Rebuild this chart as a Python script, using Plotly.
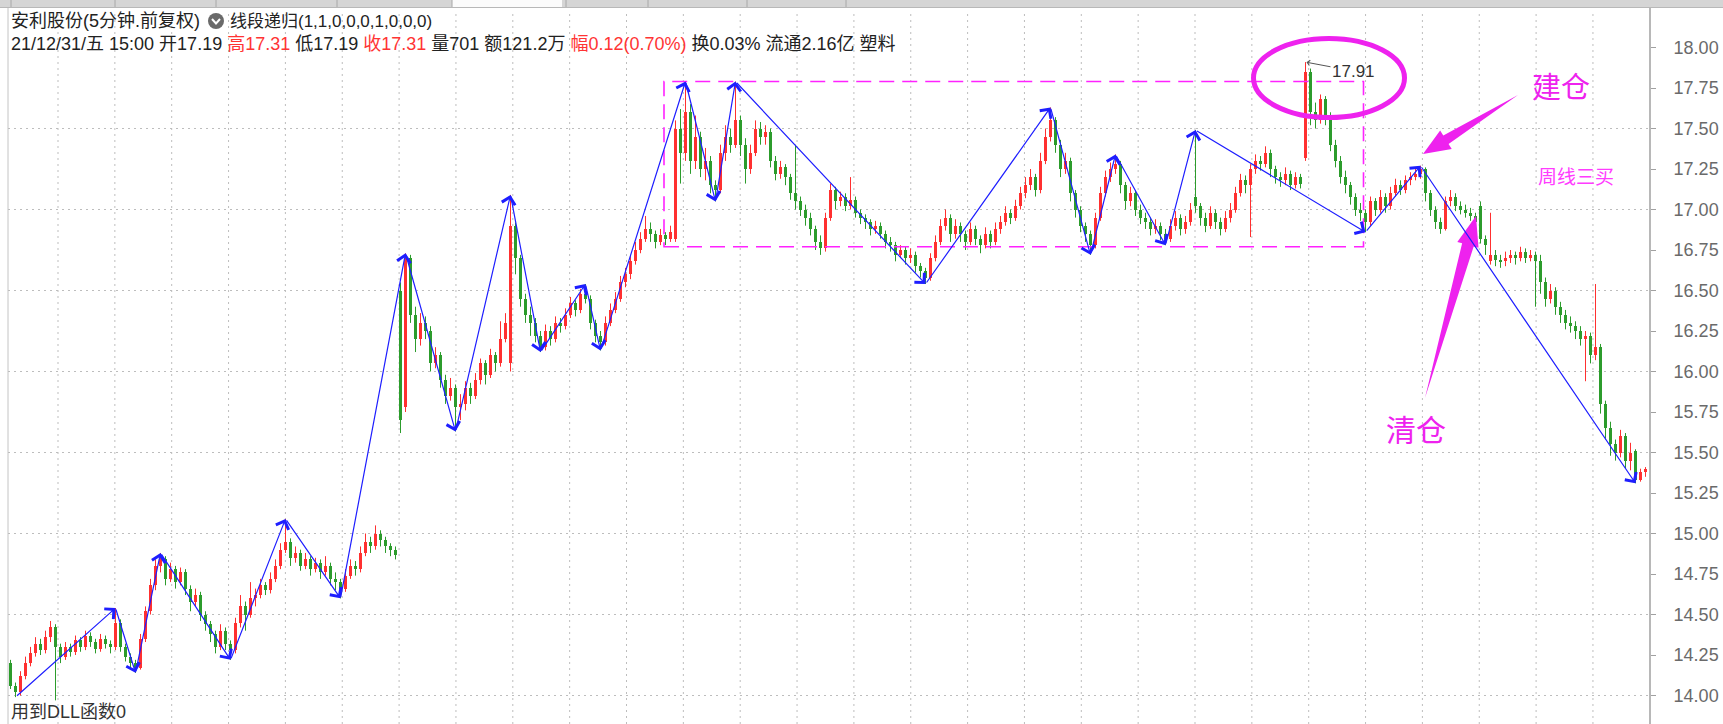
import math
import plotly.graph_objects as go

# ---------------- data (5-minute bars) ----------------
opens = [
 14.20, 14.06, 14.02, 14.12, 14.20, 14.26, 14.32, 14.28, 14.36, 14.42,
 14.30, 14.24, 14.30, 14.27, 14.34, 14.30, 14.37, 14.33, 14.29, 14.35,
 14.32, 14.30, 14.45, 14.30, 14.24, 14.20, 14.17, 14.35, 14.52, 14.68,
 14.80, 14.84, 14.72, 14.78, 14.70, 14.76, 14.66, 14.58, 14.62, 14.50,
 14.44, 14.38, 14.30, 14.40, 14.32, 14.28, 14.45, 14.55, 14.50, 14.60,
 14.62, 14.68, 14.65, 14.72, 14.80, 14.90, 14.95, 14.85, 14.88, 14.80,
 14.84, 14.78, 14.82, 14.76, 14.80, 14.72, 14.70, 14.66, 14.74, 14.80,
 14.78, 14.88, 14.95, 14.92, 15.00, 14.96, 14.92, 14.90, 16.50, 15.78,
 16.70, 16.35, 16.20, 16.30, 16.25, 16.05, 16.10, 15.95, 15.85, 15.90,
 15.78, 15.80, 15.90, 15.85, 15.95, 16.05, 15.98, 16.10, 16.05, 16.20,
 16.05, 16.90, 16.70, 16.45, 16.35, 16.30, 16.22, 16.15, 16.25, 16.20,
 16.30, 16.28, 16.35, 16.42, 16.38, 16.48, 16.45, 16.30, 16.22, 16.18,
 16.30, 16.38, 16.45, 16.55, 16.60, 16.68, 16.75, 16.82, 16.88, 16.85,
 16.80, 16.84, 16.82, 16.82, 17.50, 17.35, 17.60, 17.30, 17.45, 17.25,
 17.30, 17.15, 17.12, 17.35, 17.45, 17.40, 17.55, 17.40, 17.25, 17.35,
 17.50, 17.45, 17.48, 17.30, 17.22, 17.26, 17.20, 17.10, 17.05, 17.00,
 16.95, 16.88, 16.80, 16.76, 16.95, 17.12, 17.05, 17.08, 17.02, 17.06,
 16.98, 16.95, 16.92, 16.88, 16.90, 16.85, 16.80, 16.78, 16.72, 16.75,
 16.70, 16.72, 16.65, 16.62, 16.58, 16.70, 16.80, 16.90, 16.95, 16.85,
 16.90, 16.85, 16.80, 16.88, 16.82, 16.78, 16.85, 16.80, 16.88, 16.92,
 16.98, 16.95, 17.02, 17.10, 17.15, 17.20, 17.12, 17.30, 17.45, 17.55,
 17.40, 17.25, 17.30, 17.10, 17.00, 16.90, 16.85, 16.78, 16.95, 17.10,
 17.20, 17.25, 17.28, 17.15, 17.05, 17.10, 17.00, 16.95, 16.92, 16.88,
 16.90, 16.85, 16.82, 16.90, 16.95, 16.88, 16.92, 17.08, 17.02, 16.95,
 16.90, 16.98, 16.92, 16.88, 16.95, 17.00, 17.10, 17.18, 17.15, 17.25,
 17.30, 17.28, 17.35, 17.25, 17.20, 17.18, 17.22, 17.15, 17.20, 17.32,
 17.85, 17.60, 17.55, 17.68, 17.58, 17.40, 17.30, 17.20, 17.15, 17.08,
 17.00, 16.98, 16.92, 17.05, 17.00, 17.08, 17.02, 17.10, 17.15, 17.12,
 17.18, 17.20, 17.22, 17.25, 17.10, 17.00, 16.92, 16.88, 17.05, 17.08,
 17.02, 17.00, 16.98, 16.96, 17.02, 16.82, 16.68, 16.72, 16.69, 16.68,
 16.70, 16.72, 16.70, 16.74, 16.70, 16.72, 16.68, 16.55, 16.45, 16.50,
 16.40, 16.35, 16.30, 16.28, 16.25, 16.20, 16.22, 16.10, 16.15, 15.80,
 15.65, 15.55, 15.50, 15.60, 15.45, 15.51, 15.33, 15.38,
]
highs = [
 14.22, 14.08, 14.15, 14.24, 14.30, 14.36, 14.35, 14.40, 14.46, 14.44,
 14.32, 14.33, 14.32, 14.37, 14.36, 14.40, 14.39, 14.35, 14.38, 14.37,
 14.34, 14.54, 14.47, 14.32, 14.26, 14.22, 14.38, 14.55, 14.72, 14.84,
 14.88, 14.86, 14.82, 14.80, 14.79, 14.78, 14.68, 14.66, 14.64, 14.52,
 14.46, 14.40, 14.44, 14.42, 14.34, 14.48, 14.62, 14.58, 14.70, 14.66,
 14.72, 14.70, 14.76, 14.84, 14.94, 15.09, 14.97, 14.92, 14.90, 14.88,
 14.86, 14.85, 14.84, 14.86, 14.82, 14.76, 14.72, 14.78, 14.84, 14.83,
 14.92, 15.00, 14.98, 15.05, 15.02, 14.98, 14.94, 14.92, 16.55, 16.73,
 16.72, 16.40, 16.36, 16.34, 16.28, 16.15, 16.12, 15.98, 15.96, 15.92,
 15.86, 15.94, 15.93, 15.99, 16.08, 16.07, 16.14, 16.12, 16.31, 16.36,
 17.09, 16.92, 16.72, 16.48, 16.40, 16.33, 16.25, 16.29, 16.28, 16.34,
 16.33, 16.39, 16.46, 16.44, 16.51, 16.54, 16.47, 16.32, 16.25, 16.34,
 16.42, 16.49, 16.59, 16.64, 16.72, 16.80, 16.86, 16.96, 16.92, 16.87,
 16.88, 16.86, 16.90, 17.55, 17.62, 17.79, 17.65, 17.58, 17.48, 17.38,
 17.33, 17.18, 17.40, 17.52, 17.50, 17.79, 17.58, 17.44, 17.40, 17.55,
 17.54, 17.52, 17.50, 17.33, 17.30, 17.28, 17.22, 17.40, 17.08, 17.03,
 16.98, 16.90, 16.84, 16.98, 17.16, 17.14, 17.11, 17.10, 17.20, 17.08,
 17.00, 16.97, 16.94, 16.93, 16.92, 16.87, 16.83, 16.80, 16.78, 16.77,
 16.76, 16.74, 16.67, 16.64, 16.73, 16.84, 16.94, 17.00, 16.97, 16.94,
 16.92, 16.87, 16.92, 16.90, 16.84, 16.89, 16.87, 16.92, 16.96, 17.02,
 17.00, 17.06, 17.14, 17.20, 17.25, 17.22, 17.35, 17.50, 17.63, 17.57,
 17.43, 17.35, 17.32, 17.12, 17.02, 16.92, 16.87, 16.98, 17.14, 17.24,
 17.29, 17.34, 17.30, 17.17, 17.14, 17.12, 17.03, 16.98, 16.95, 16.94,
 16.92, 16.88, 16.94, 16.99, 16.97, 16.96, 17.04, 17.49, 17.04, 16.98,
 17.02, 17.00, 16.95, 16.99, 17.04, 17.14, 17.22, 17.21, 17.28, 17.34,
 17.33, 17.39, 17.37, 17.27, 17.23, 17.26, 17.24, 17.23, 17.22, 17.91,
 17.87, 17.66, 17.71, 17.70, 17.60, 17.43, 17.33, 17.24, 17.17, 17.10,
 17.04, 17.00, 17.08, 17.07, 17.12, 17.10, 17.14, 17.19, 17.18, 17.21,
 17.23, 17.25, 17.27, 17.26, 17.12, 17.02, 16.95, 17.08, 17.12, 17.10,
 17.05, 17.03, 17.01, 16.98, 17.05, 16.84, 16.98, 16.75, 16.72, 16.74,
 16.75, 16.74, 16.77, 16.76, 16.75, 16.74, 16.72, 16.58, 16.54, 16.52,
 16.43, 16.38, 16.34, 16.31, 16.28, 16.25, 16.24, 16.54, 16.17, 15.82,
 15.69, 15.58, 15.64, 15.62, 15.56, 15.52, 15.40, 15.41,
]
lows = [
 14.04, 13.99, 14.00, 14.10, 14.18, 14.24, 14.25, 14.26, 14.33, 13.97,
 14.20, 14.22, 14.24, 14.25, 14.27, 14.28, 14.30, 14.26, 14.27, 14.29,
 14.26, 14.28, 14.27, 14.21, 14.17, 14.14, 14.16, 14.33, 14.50, 14.65,
 14.76, 14.68, 14.70, 14.66, 14.68, 14.62, 14.52, 14.55, 14.46, 14.40,
 14.33, 14.26, 14.28, 14.28, 14.22, 14.26, 14.42, 14.40, 14.48, 14.55,
 14.60, 14.62, 14.63, 14.70, 14.78, 14.88, 14.80, 14.82, 14.77, 14.78,
 14.74, 14.76, 14.72, 14.74, 14.68, 14.65, 14.60, 14.64, 14.72, 14.74,
 14.76, 14.86, 14.88, 14.90, 14.92, 14.88, 14.86, 14.84, 15.62, 15.75,
 16.30, 16.12, 16.16, 16.20, 16.00, 16.02, 15.90, 15.80, 15.82, 15.63,
 15.70, 15.76, 15.80, 15.83, 15.92, 15.92, 15.96, 16.00, 16.03, 16.18,
 16.00, 16.60, 16.40, 16.30, 16.22, 16.18, 16.12, 16.13, 16.16, 16.18,
 16.24, 16.26, 16.33, 16.34, 16.36, 16.42, 16.26, 16.18, 16.13, 16.16,
 16.28, 16.36, 16.43, 16.52, 16.57, 16.66, 16.73, 16.80, 16.80, 16.76,
 16.78, 16.78, 16.80, 16.80, 17.16, 17.30, 17.22, 17.25, 17.20, 17.18,
 17.10, 17.05, 17.10, 17.30, 17.35, 17.38, 17.33, 17.16, 17.22, 17.33,
 17.40, 17.40, 17.26, 17.18, 17.19, 17.15, 17.06, 17.00, 16.96, 16.90,
 16.84, 16.75, 16.72, 16.74, 16.93, 17.00, 17.02, 16.99, 17.00, 16.95,
 16.91, 16.88, 16.84, 16.85, 16.82, 16.76, 16.74, 16.68, 16.70, 16.66,
 16.67, 16.61, 16.58, 16.54, 16.56, 16.68, 16.78, 16.87, 16.80, 16.82,
 16.80, 16.75, 16.78, 16.78, 16.73, 16.76, 16.76, 16.78, 16.85, 16.90,
 16.91, 16.93, 17.00, 17.07, 17.12, 17.08, 17.10, 17.28, 17.42, 17.35,
 17.20, 17.22, 17.05, 16.95, 16.86, 16.80, 16.72, 16.76, 16.93, 17.08,
 17.17, 17.22, 17.10, 17.00, 17.02, 16.96, 16.91, 16.88, 16.84, 16.85,
 16.81, 16.78, 16.80, 16.87, 16.84, 16.85, 16.90, 16.98, 16.90, 16.86,
 16.88, 16.88, 16.84, 16.86, 16.92, 16.98, 17.08, 17.10, 16.83, 17.22,
 17.24, 17.26, 17.20, 17.16, 17.14, 17.15, 17.12, 17.13, 17.13, 17.30,
 17.52, 17.50, 17.53, 17.52, 17.36, 17.26, 17.16, 17.10, 17.03, 16.96,
 16.93, 16.86, 16.90, 16.96, 16.98, 16.98, 17.00, 17.08, 17.09, 17.10,
 17.15, 17.18, 17.19, 17.05, 16.96, 16.88, 16.85, 16.87, 17.02, 16.99,
 16.97, 16.95, 16.93, 16.88, 16.79, 16.72, 16.66, 16.65, 16.64, 16.65,
 16.67, 16.66, 16.68, 16.67, 16.68, 16.40, 16.48, 16.40, 16.42, 16.35,
 16.30, 16.26, 16.24, 16.20, 16.16, 15.94, 16.05, 16.07, 15.74, 15.58,
 15.48, 15.45, 15.47, 15.40, 15.39, 15.31, 15.32, 15.35,
]
closes = [
 14.06, 14.02, 14.12, 14.20, 14.26, 14.32, 14.28, 14.36, 14.42, 14.30,
 14.24, 14.30, 14.27, 14.34, 14.30, 14.37, 14.33, 14.29, 14.35, 14.32,
 14.30, 14.45, 14.30, 14.24, 14.20, 14.17, 14.35, 14.52, 14.68, 14.80,
 14.84, 14.72, 14.78, 14.70, 14.76, 14.66, 14.58, 14.62, 14.50, 14.44,
 14.38, 14.30, 14.40, 14.32, 14.28, 14.45, 14.55, 14.50, 14.60, 14.62,
 14.68, 14.65, 14.72, 14.80, 14.90, 14.95, 14.85, 14.88, 14.80, 14.84,
 14.78, 14.82, 14.76, 14.80, 14.72, 14.70, 14.66, 14.74, 14.80, 14.78,
 14.88, 14.95, 14.92, 15.00, 14.96, 14.92, 14.90, 14.87, 15.70, 16.70,
 16.35, 16.20, 16.30, 16.25, 16.05, 16.10, 15.95, 15.85, 15.90, 15.78,
 15.80, 15.90, 15.85, 15.95, 16.05, 15.98, 16.10, 16.05, 16.20, 16.30,
 16.90, 16.70, 16.45, 16.35, 16.30, 16.22, 16.15, 16.25, 16.20, 16.30,
 16.28, 16.35, 16.42, 16.38, 16.48, 16.45, 16.30, 16.22, 16.18, 16.30,
 16.38, 16.45, 16.55, 16.60, 16.68, 16.75, 16.82, 16.88, 16.85, 16.80,
 16.84, 16.82, 16.86, 17.50, 17.35, 17.60, 17.30, 17.45, 17.25, 17.30,
 17.15, 17.12, 17.35, 17.45, 17.40, 17.55, 17.40, 17.25, 17.35, 17.50,
 17.45, 17.48, 17.30, 17.22, 17.26, 17.20, 17.10, 17.05, 17.00, 16.95,
 16.88, 16.80, 16.76, 16.95, 17.12, 17.05, 17.08, 17.02, 17.06, 16.98,
 16.95, 16.92, 16.88, 16.90, 16.85, 16.80, 16.78, 16.72, 16.75, 16.70,
 16.72, 16.65, 16.62, 16.58, 16.70, 16.80, 16.90, 16.95, 16.85, 16.90,
 16.85, 16.80, 16.88, 16.82, 16.78, 16.85, 16.80, 16.88, 16.92, 16.98,
 16.95, 17.02, 17.10, 17.15, 17.20, 17.12, 17.30, 17.45, 17.55, 17.40,
 17.25, 17.30, 17.10, 17.00, 16.90, 16.85, 16.78, 16.95, 17.10, 17.20,
 17.25, 17.28, 17.15, 17.05, 17.10, 17.00, 16.95, 16.92, 16.88, 16.90,
 16.85, 16.82, 16.90, 16.95, 16.88, 16.92, 17.00, 17.02, 16.95, 16.90,
 16.98, 16.92, 16.88, 16.95, 17.00, 17.10, 17.18, 17.15, 17.25, 17.30,
 17.28, 17.35, 17.25, 17.20, 17.18, 17.22, 17.15, 17.20, 17.16, 17.85,
 17.60, 17.55, 17.68, 17.58, 17.40, 17.30, 17.20, 17.15, 17.08, 17.00,
 16.98, 16.92, 17.05, 17.00, 17.08, 17.02, 17.10, 17.15, 17.12, 17.18,
 17.20, 17.22, 17.25, 17.10, 17.00, 16.92, 16.88, 17.05, 17.08, 17.02,
 17.00, 16.98, 16.96, 16.92, 16.82, 16.78, 16.72, 16.69, 16.68, 16.70,
 16.72, 16.70, 16.74, 16.70, 16.72, 16.68, 16.55, 16.45, 16.50, 16.40,
 16.35, 16.30, 16.28, 16.25, 16.20, 16.22, 16.10, 16.15, 15.80, 15.65,
 15.55, 15.50, 15.60, 15.45, 15.50, 15.33, 15.38, 15.40,
]

# zigzag ("线段递归") turning points: bar index and price
zz_idx = [1, 21, 25, 30, 44, 55, 66, 79, 89, 100, 106, 115, 118, 135, 141, 145,
          183, 208, 216, 221, 231, 237, 271, 282, 325]
zz_price = [13.99, 14.54, 14.14, 14.88, 14.22, 15.09, 14.60, 16.73, 15.63, 17.09,
            16.12, 16.54, 16.13, 17.79, 17.05, 17.79, 16.54, 17.63, 16.72, 17.34,
            16.78, 17.49, 16.86, 17.27, 15.31]

# consolidation box (bar index range, price range) and the marked high
box_idx = [130.7, 270.6]
box_price = [16.77, 17.79]
peak_idx = 259
peak_price = 17.91

y_tickvals = [14.00, 14.25, 14.50, 14.75, 15.00, 15.25, 15.50, 15.75, 16.00,
              16.25, 16.50, 16.75, 17.00, 17.25, 17.50, 17.75, 18.00]
y_ticktext = ["14.00", "14.25", "14.50", "14.75", "15.00", "15.25", "15.50", "15.75", "16.00",
              "16.25", "16.50", "16.75", "17.00", "17.25", "17.50", "17.75", "18.00"]
grid_levels = [14.0, 14.5, 15.0, 15.5, 16.0, 16.5, 17.0, 17.5]

title_line1a = "安利股份(5分钟.前复权)"
title_line1b = "线段递归(1,1,0,0,0,1,0,0,0)"
RED_TXT = "#ff3434"
title_line2 = ("21/12/31/五 15:00 开17.19 "
               f"<span style='color:{RED_TXT}'>高17.31</span> 低17.19 "
               f"<span style='color:{RED_TXT}'>收17.31</span> 量701 额121.2万 "
               f"<span style='color:{RED_TXT}'>幅0.12(0.70%)</span> 换0.03% 流通2.16亿 塑料")
footer_text = "用到DLL函数0"

N = len(closes)
assert len(opens) == N and len(highs) == N and len(lows) == N, (len(opens), len(highs), len(lows), N)

# ---------------- geometry ----------------
W, H = 1723, 724
ML, MR, MT, MB = 8, 74, 8, 0
PW, PH = W - ML - MR, H - MT - MB
X0 = -0.5
X1 = X0 + PW / 5.0
Y1 = 18.0 + (47.5 - MT) / 162.0
Y0 = Y1 - PH / 162.0


def px2x(px):
    return X0 + (px - ML) * (X1 - X0) / PW


def py2y(py):
    return Y1 - (py - MT) * (Y1 - Y0) / PH


def px2p(px):
    return (px - ML) / PW


def py2p(py):
    return (H - MB - py) / PH


FONT = "Liberation Sans, Arial, Noto Sans CJK SC"
RED = "#ff3030"
GREEN = "#2c9c2c"
BLUE = "#1e1eff"
MAG = "#ee22ee"

fig = go.Figure()

# wicks
groups = {RED: ([], []), GREEN: ([], []), "#333333": ([], [])}
body_col, body_base, body_h = [], [], []
for i in range(N):
    o, h, l, c = opens[i], highs[i], lows[i], closes[i]
    col = RED if c > o else (GREEN if c < o else "#333333")
    gx, gy = groups[col]
    gx += [i, i, None]
    gy += [l, h, None]
    body_col.append(col)
    body_base.append(min(o, c))
    body_h.append(max(abs(c - o), 0.007))

for col, (gx, gy) in groups.items():
    fig.add_trace(go.Scatter(x=gx, y=gy, mode="lines", line=dict(color=col, width=1),
                             hoverinfo="skip", showlegend=False))

fig.add_trace(go.Bar(x=list(range(N)), y=body_h, base=body_base, width=0.5,
                     marker=dict(color=body_col, line=dict(width=0)), showlegend=False,
                     hoverinfo="skip"))

shapes = []
annotations = []

# grid
for lv in grid_levels:
    shapes.append(dict(type="line", xref="paper", yref="y", x0=0, x1=1, y0=lv, y1=lv,
                       line=dict(color="#bdbdbd", width=1, dash="2px,4px"), layer="below"))
gx_px = 58.0
while gx_px < ML + PW - 5:
    xv = px2x(gx_px)
    shapes.append(dict(type="line", xref="x", yref="paper", x0=xv, x1=xv, y0=0, y1=py2p(10),
                       line=dict(color="#bdbdbd", width=1, dash="2px,4px"), layer="below"))
    gx_px += 56.85

# left border
shapes.append(dict(type="line", xref="paper", yref="paper", x0=0, x1=0, y0=0, y1=py2p(8),
                   line=dict(color="#c4c4c4", width=1)))

# tab bar at top
shapes.append(dict(type="rect", xref="paper", yref="paper", x0=px2p(0), x1=px2p(W),
                   y0=py2p(7), y1=py2p(0), fillcolor="#d5d5d5", line=dict(width=0)))
shapes.append(dict(type="rect", xref="paper", yref="paper", x0=px2p(452), x1=px2p(562),
                   y0=py2p(7.5), y1=py2p(0), fillcolor="#fbfbfb", line=dict(width=0)))
for sx in [11, 115, 216, 337, 452, 566, 648, 747, 846]:
    shapes.append(dict(type="line", xref="paper", yref="paper", x0=px2p(sx), x1=px2p(sx),
                       y0=py2p(7), y1=py2p(0), line=dict(color="#a8a8a8", width=1)))
shapes.append(dict(type="line", xref="paper", yref="paper", x0=px2p(0), x1=px2p(W),
                   y0=py2p(7.5), y1=py2p(7.5), line=dict(color="#b8b8b8", width=1)))

# dashed consolidation box
shapes.append(dict(type="rect", xref="x", yref="y", x0=box_idx[0], x1=box_idx[1],
                   y0=box_price[0], y1=box_price[1],
                   line=dict(color="#ff22ff", width=1.6, dash="15px,8px"), layer="above"))

# ellipse round the high
shapes.append(dict(type="circle", xref="x", yref="y", x0=px2x(1253.5), x1=px2x(1404.5),
                   y0=py2y(117.5), y1=py2y(38.5), line=dict(color=MAG, width=5), layer="above"))


def wedge(tail, tip, head_len, head_half, shaft_half):
    tx, ty = tail
    hx, hy = tip
    dx, dy = hx - tx, hy - ty
    L = math.hypot(dx, dy)
    ux, uy = dx / L, dy / L
    nx, ny = -uy, ux
    bx, by = hx - ux * head_len, hy - uy * head_len
    pts = [(tx, ty), (bx + nx * shaft_half, by + ny * shaft_half),
           (bx + nx * head_half, by + ny * head_half), (hx, hy),
           (bx - nx * head_half, by - ny * head_half),
           (bx - nx * shaft_half, by - ny * shaft_half)]
    return "M " + " L ".join(f"{px2x(x):.4f},{py2y(y):.4f}" for x, y in pts) + " Z"


shapes.append(dict(type="path", xref="x", yref="y", path=wedge((1518, 95), (1423, 154), 27, 11, 5),
                   fillcolor=MAG, line=dict(width=0), layer="above"))
shapes.append(dict(type="path", xref="x", yref="y", path=wedge((1425, 398), (1476, 216), 30, 11, 6),
                   fillcolor=MAG, line=dict(width=0), layer="above"))

# icon in header
shapes.append(dict(type="circle", xref="paper", yref="paper", x0=px2p(208), x1=px2p(224),
                   y0=py2p(29), y1=py2p(13), fillcolor="#6a6a6a", line=dict(width=0)))
shapes.append(dict(type="path", xref="paper", yref="paper",
                   path=f"M {px2p(212)},{py2p(19)} L {px2p(216)},{py2p(23.5)} L {px2p(220)},{py2p(19)}",
                   line=dict(color="white", width=2)))

# zigzag segments with arrow heads
for k in range(len(zz_idx) - 1):
    annotations.append(dict(x=zz_idx[k + 1], y=zz_price[k + 1], ax=zz_idx[k], ay=zz_price[k],
                            xref="x", yref="y", axref="x", ayref="y", text="", showarrow=True,
                            arrowhead=4, arrowsize=2.2, arrowwidth=1.2, arrowcolor=BLUE,
                            standoff=0, startstandoff=0))

# high marker
annotations.append(dict(x=peak_idx, y=peak_price, xref="x", yref="y", text=f"{peak_price:.2f}",
                        showarrow=True, ax=48, ay=9, arrowhead=4, arrowsize=1, arrowwidth=1,
                        arrowcolor="#555555", standoff=1,
                        font=dict(family=FONT, size=17, color="#333333")))


def paper_text(px, py, text, size, color, family=FONT, xanchor="left"):
    annotations.append(dict(x=px2p(px), y=py2p(py), xref="paper", yref="paper", text=text,
                            showarrow=False, xanchor=xanchor, yanchor="middle",
                            font=dict(family=family, size=size, color=color)))


# header / footer text
paper_text(9, 21, title_line1a, 18, "#222222")
paper_text(228, 21, title_line1b, 17, "#222222")
paper_text(9, 44, title_line2, 18, "#222222")
paper_text(9, 712, footer_text, 18, "#333333")

# magenta notes
paper_text(1561, 85, "建仓", 29, MAG, "Noto Sans CJK SC", "center")
paper_text(1416, 428, "清仓", 30, MAG, "Noto Sans CJK SC", "center")
paper_text(1576, 176, "周线三买", 19, "#ff3cff", "Noto Sans CJK SC", "center")

fig.update_layout(
    width=W, height=H,
    margin=dict(l=ML, r=MR, t=MT, b=MB, pad=0),
    paper_bgcolor="white", plot_bgcolor="white",
    showlegend=False, barmode="overlay", bargap=0,
    shapes=shapes, annotations=annotations,
    xaxis=dict(range=[X0, X1], visible=False, fixedrange=True),
    yaxis=dict(range=[Y0, Y1], side="right", showgrid=False, zeroline=False,
               showline=True, linecolor="#b8b8b8", linewidth=2, automargin=False,
               ticks="outside", ticklen=5, tickcolor="#a0a0a0", tickwidth=1,
               tickvals=y_tickvals, ticktext=y_ticktext, ticklabelstandoff=14,
               tickfont=dict(family=FONT, size=18, color="#6a6a6a"), fixedrange=True),
)

fig.write_html("out.html", config={"displayModeBar": False},
               post_script="document.body.style.margin='0px';document.body.style.overflow='hidden';")
